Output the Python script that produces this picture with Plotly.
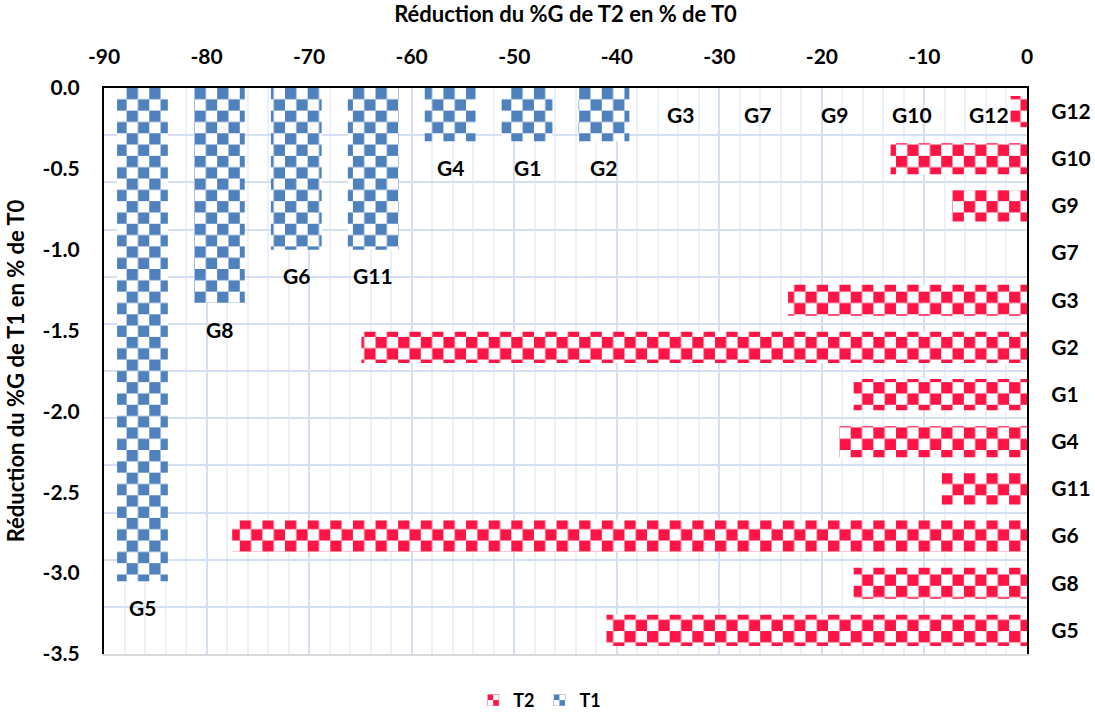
import plotly.graph_objects as go

# Genotypes ordered bottom-to-top (T2 axis) and left-to-right (T1 axis)
genotypes = ["G5", "G8", "G6", "G11", "G4", "G1", "G2", "G3", "G7", "G9", "G10", "G12"]

# Reduction of %G for T1 relative to T0 (columns, left axis)
t1_values = [-3.05, -1.33, -1.0, -1.0, -0.33, -0.33, -0.33, 0.0, 0.0, 0.0, 0.0, 0.0]

# Reduction of %G for T2 relative to T0 (horizontal bars, top axis)
t2_values = [-41.0, -16.9, -77.5, -8.3, -18.3, -16.9, -64.9, -23.3, 0.0, -7.3, -13.3, -1.6]

x_ticks = list(range(-90, 1, 10))
y_ticks = [0.0, -0.5, -1.0, -1.5, -2.0, -2.5, -3.0, -3.5]

RED = "#FF1446"
BLUE = "#4F81BD"
FONT = "Lato"
MAJOR_GRID = "#D5E1F2"
MINOR_GRID = "#ECF1F9"

bold = lambda size: dict(family=FONT, size=size, color="black", weight="bold")

fig = go.Figure()

fig.add_trace(go.Bar(
    name="T2", orientation="h",
    x=t2_values, y=genotypes, xaxis="x", yaxis="y2",
    width=0.66,
    marker=dict(color=RED, line=dict(width=0),
                pattern=dict(shape="/", fgcolor=RED, bgcolor="white",
                             size=16, solidity=0.5, fillmode="replace")),
    hoverinfo="x+y",
))

fig.add_trace(go.Bar(
    name="T1",
    x=genotypes, y=t1_values, xaxis="x2", yaxis="y",
    width=0.66,
    marker=dict(color=BLUE, line=dict(width=0),
                pattern=dict(shape="/", fgcolor=BLUE, bgcolor="white",
                             size=16, solidity=0.5, fillmode="replace")),
    hoverinfo="x+y",
))

# Genotype names under the end of each T1 column
for g, v in zip(genotypes, t1_values):
    fig.add_annotation(x=g, y=v, xref="x2", yref="y", text=g, showarrow=False,
                       yshift=-26, font=bold(21))

fig.update_layout(
    width=1095, height=715,
    paper_bgcolor="white", plot_bgcolor="rgba(0,0,0,0)",
    margin=dict(l=104, r=68, t=88, b=61, autoexpand=False),
    showlegend=True,
    legend=dict(orientation="h", x=0.472, xanchor="center", y=-0.082, yanchor="middle",
                font=bold(18), traceorder="normal", itemwidth=30),
    xaxis=dict(
        range=[-90, 0], side="top", anchor="y",
        tickvals=x_ticks, ticktext=[str(v) for v in x_ticks],
        tickfont=bold(21), ticks="", ticklabelstandoff=14,
        showgrid=True, gridcolor=MAJOR_GRID, gridwidth=1.5,
        minor=dict(dtick=2, showgrid=True, gridcolor=MINOR_GRID, gridwidth=1.5),
        showline=True, linecolor="black", linewidth=2,
        zeroline=False,
        title=dict(text="Réduction du %G de T2 en % de T0", font=bold(22), standoff=14),
    ),
    xaxis2=dict(
        overlaying="x", side="bottom", anchor="y", type="category",
        categoryorder="array", categoryarray=genotypes, range=[-0.5, 11.5],
        showticklabels=False, ticks="", showgrid=False, zeroline=False,
        showline=True, linecolor="#D9D9D9", linewidth=1.5,
    ),
    yaxis=dict(
        range=[-3.5, 0], anchor="x",
        tickvals=y_ticks, ticktext=[f"{v:.1f}" for v in y_ticks],
        tickfont=bold(21), ticks="", ticklabelstandoff=18,
        showgrid=False, zeroline=False,
        showline=True, linecolor="black", linewidth=2,
        title=dict(text="Réduction du %G de T1 en % de T0", font=bold(22), standoff=12),
    ),
    yaxis2=dict(
        overlaying="y", side="right", anchor="x", type="category",
        categoryorder="array", categoryarray=genotypes, range=[-0.5, 11.5],
        tickson="boundaries", ticks="", ticklabelstandoff=18,
        tickfont=bold(21),
        showgrid=True, gridcolor=MAJOR_GRID, gridwidth=1.5,
        showline=True, linecolor="black", linewidth=2, zeroline=False,
    ),
)

# Turn the bar pattern tiles into a two-colour checkerboard
checker_js = """
var gd = document.getElementById('{plot_id}');
function checkerTiles() {
  var ns = 'http://www.w3.org/2000/svg';
  gd.querySelectorAll('pattern').forEach(function (p) {
    if (p.getAttribute('data-checker')) return;
    var w = parseFloat(p.getAttribute('width'));
    var h = parseFloat(p.getAttribute('height'));
    var fg = null;
    p.querySelectorAll('path,circle').forEach(function (c) {
      fg = c.getAttribute('stroke') || c.getAttribute('fill') || fg;
    });
    if (!fg) return;
    while (p.firstChild) p.removeChild(p.firstChild);
    function sq(x, y, ww, hh, f) {
      var r = document.createElementNS(ns, 'rect');
      r.setAttribute('x', x); r.setAttribute('y', y);
      r.setAttribute('width', ww); r.setAttribute('height', hh);
      r.setAttribute('fill', f);
      p.appendChild(r);
    }
    sq(0, 0, w, h, '#ffffff');
    sq(0, 0, w / 2, h / 2, fg);
    sq(w / 2, h / 2, w / 2, h / 2, fg);
    p.setAttribute('data-checker', '1');
  });
}
checkerTiles();
gd.on('plotly_afterplot', checkerTiles);
"""

fig.write_html("out.html", post_script=checker_js)
